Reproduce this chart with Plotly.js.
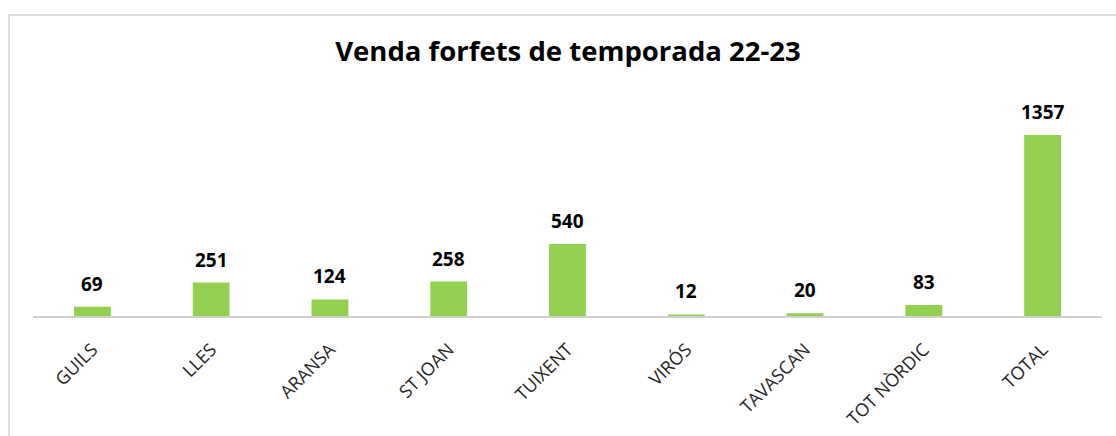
<!DOCTYPE html>
<html>
<head>
<meta charset="utf-8">
<script src="https://cdn.plot.ly/plotly-3.0.1.min.js"></script>
<style>
html,body{margin:0;padding:0;background:#fff;overflow:hidden;}
#wrap{position:relative;width:1116px;height:436px;}
#chart{position:absolute;left:0;top:0;width:1116px;height:436px;}
#frame{position:absolute;left:8px;top:14px;width:1120px;height:440px;border:2px solid #dcdcdc;box-sizing:border-box;pointer-events:none;}
</style>
</head>
<body>
<div id="wrap"><div id="chart"></div><div id="frame"></div></div>
<script>
const categories = ["GUILS","LLES","ARANSA","ST JOAN","TUIXENT","VIRÓS","TAVASCAN","TOT NÒRDIC","TOTAL"];
const values = [69, 251, 124, 258, 540, 12, 20, 83, 1357];
const titleText = "Venda forfets de temporada 22-23";

const trace = {
  type: 'bar',
  x: categories,
  y: values,
  marker: {color: '#92D050'},
  width: 0.31,
  hoverinfo: 'x+y'
};

const annotations = categories.map((c, i) => ({
  x: c, y: values[i], xref: 'x', yref: 'y',
  text: String(values[i]),
  showarrow: false,
  yanchor: 'middle',
  yshift: 23,
  font: {family: 'Open Sans, sans-serif', size: 19, color: '#000000', weight: 'bold'}
}));

const layout = {
  width: 1116, height: 436,
  margin: {l: 33, r: 14, t: 100, b: 120},
  paper_bgcolor: '#ffffff', plot_bgcolor: '#ffffff',
  title: {
    text: '<b>' + titleText + '</b>',
    x: 0.509, xanchor: 'center', y: 0.882, yanchor: 'middle',
    font: {family: 'Open Sans, sans-serif', size: 27.5, color: '#000000'}
  },
  xaxis: {
    type: 'category',
    tickangle: -45,
    showline: true, linecolor: '#d0d0d0', linewidth: 2,
    ticks: '', showgrid: false, zeroline: false,
    ticklabelstandoff: 14,
    tickfont: {family: 'Open Sans, sans-serif', size: 18, color: '#262626'},
    fixedrange: true
  },
  yaxis: {
    range: [0, 1619],
    visible: false, showgrid: false, zeroline: false,
    fixedrange: true
  },
  annotations: annotations,
  showlegend: false,
  bargap: 0.69
};

Plotly.newPlot('chart', [trace], layout, {displayModeBar: false, staticPlot: true});
</script>
</body>
</html>
